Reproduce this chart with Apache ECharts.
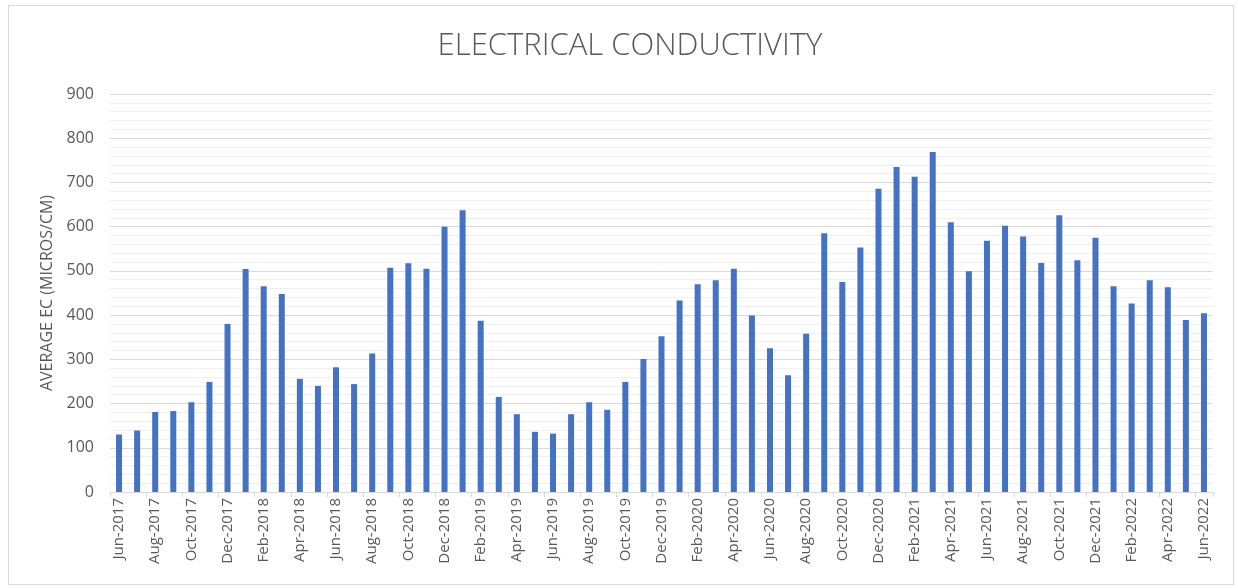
<!DOCTYPE html>
<html>
<head>
<meta charset="utf-8">
<script src="https://cdn.jsdelivr.net/npm/echarts@6/dist/echarts.min.js"></script>
<style>
  html, body { margin: 0; padding: 0; background: #ffffff; }
  #frame { position: absolute; left: 8px; top: 5px; width: 1226px; height: 580px; border: 1px solid #d9d9d9; box-sizing: border-box; }
  #chart { width: 1238px; height: 588px; }
</style>
</head>
<body>
<div id="frame"></div>
<div id="chart"></div>
<script>
// Monthly categories, Jun-2017 .. Jun-2022
const months = [
  'Jun-2017','Jul-2017','Aug-2017','Sep-2017','Oct-2017','Nov-2017','Dec-2017',
  'Jan-2018','Feb-2018','Mar-2018','Apr-2018','May-2018','Jun-2018','Jul-2018','Aug-2018','Sep-2018','Oct-2018','Nov-2018','Dec-2018',
  'Jan-2019','Feb-2019','Mar-2019','Apr-2019','May-2019','Jun-2019','Jul-2019','Aug-2019','Sep-2019','Oct-2019','Nov-2019','Dec-2019',
  'Jan-2020','Feb-2020','Mar-2020','Apr-2020','May-2020','Jun-2020','Jul-2020','Aug-2020','Sep-2020','Oct-2020','Nov-2020','Dec-2020',
  'Jan-2021','Feb-2021','Mar-2021','Apr-2021','May-2021','Jun-2021','Jul-2021','Aug-2021','Sep-2021','Oct-2021','Nov-2021','Dec-2021',
  'Jan-2022','Feb-2022','Mar-2022','Apr-2022','May-2022','Jun-2022'
];

// Average electrical conductivity (micros/cm) per month
const avgEC = [
  130, 139, 181, 183, 203, 249, 380,
  504, 465, 448, 256, 240, 282, 244, 313, 507, 517, 505, 600,
  637, 387, 215, 176, 136, 132, 176, 203, 186, 249, 301, 352,
  433, 470, 479, 505, 399, 325, 264, 358, 585, 475, 553, 686,
  735, 713, 769, 610, 499, 568, 602, 578, 518, 626, 524, 575,
  465, 426, 479, 463, 389, 404
];

// Value axis ticks
const yTicks = [0, 100, 200, 300, 400, 500, 600, 700, 800, 900];

const chart = echarts.init(document.getElementById('chart'), null, { renderer: 'canvas' });
const fontFamily = '"Open Sans", "Liberation Sans", sans-serif';

chart.setOption({
  backgroundColor: 'transparent',
  animation: false,
  title: {
    text: 'ELECTRICAL CONDUCTIVITY',
    left: 625,
    top: 26,
    textAlign: 'center',
    textStyle: { fontFamily, fontSize: 31, fontWeight: 300, color: '#595959' }
  },
  grid: { left: 110, right: 25, top: 94, bottom: 96, containLabel: false },
  xAxis: {
    type: 'category',
    data: months,
    axisLine: { lineStyle: { color: '#d9d9d9', width: 1 } },
    axisTick: { show: true, interval: 1, length: 5, lineStyle: { color: '#d9d9d9' } },
    axisLabel: { interval: 1, rotate: 90, margin: 6, fontFamily, fontSize: 15, color: '#595959' },
    splitLine: { show: false }
  },
  yAxis: {
    type: 'value',
    min: yTicks[0],
    max: yTicks[yTicks.length - 1],
    interval: 100,
    name: 'AVERAGE EC (MICROS/CM)',
    nameLocation: 'middle',
    nameGap: 55,
    nameTextStyle: { fontFamily, fontSize: 16, color: '#595959' },
    axisLine: { show: false },
    axisTick: { show: false },
    axisLabel: { margin: 16, fontFamily, fontSize: 16, color: '#595959' },
    splitLine: { lineStyle: { color: '#d9d9d9', width: 1 } },
    minorTick: { show: false, splitNumber: 5 },
    minorSplitLine: { show: true, lineStyle: { color: '#efefef', width: 1 } }
  },
  series: [{
    type: 'bar',
    data: avgEC,
    barWidth: 6,
    itemStyle: { color: '#4472c4' }
  }]
});
</script>
</body>
</html>
